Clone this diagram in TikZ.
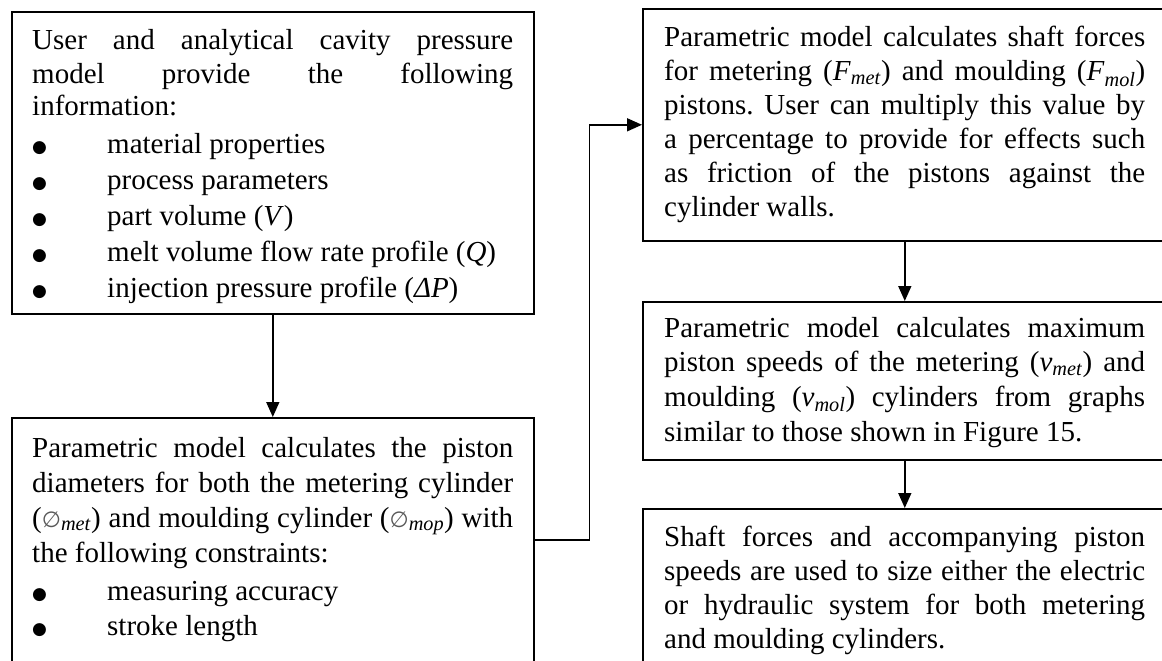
\documentclass[tikz,border=0pt]{standalone}
\usepackage{fontspec}
\setmainfont{Liberation Serif}
\newfontfamily\symf{DejaVu Sans}
\usetikzlibrary{arrows.meta}
\hyphenpenalty=10000
\exhyphenpenalty=10000
\hbadness=10000
\frenchspacing
\newcommand{\dia}{{\symf\fontsize{22}{22}\selectfont\color{black!65}∅}}
\newcommand{\bul}{{\symf\fontsize{17}{17}\selectfont\raisebox{1pt}{●}}}
\tikzset{
  box/.style={draw, line width=1.6pt, inner sep=0pt, anchor=north west},
  txt/.style={inner sep=0pt, anchor=base west, font=\fontsize{29}{34}\selectfont},
  para/.style={txt, text width=481pt, align=justify},
  arr/.style={line width=1.6pt, -{Triangle[length=15pt,width=13pt]}},
}
\begin{document}
\begin{tikzpicture}[x=1pt,y=-1pt]
\useasboundingbox (0,0) rectangle (1162,661);
\clip (0,0) rectangle (1162,661);
% boxes
\node[box, minimum width=522pt, minimum height=302pt] (b1) at (11,11) {};
\node[box, minimum width=522pt, minimum height=244pt] (b2) at (11,417) {};
\node[box, minimum width=524pt, minimum height=232pt] (b3) at (642,8) {};
\node[box, minimum width=524pt, minimum height=158pt] (b4) at (642,301) {};
\node[box, minimum width=524pt, minimum height=200pt] (b5) at (642,508) {};
% box 1 text
\node[para, font=\fontsize{29}{33}\selectfont] (t1) at (32,50) {User and analytical cavity pressure\linebreak model provide the following\linebreak information:};
\node[txt] (u1) at (32,153) {\bul};
\node[txt] (i1) at (107,153) {material properties};
\node[txt] (u2) at (32,189) {\bul};
\node[txt] (i2) at (107,189) {process parameters};
\node[txt] (u3) at (32,225) {\bul};
\node[txt] (i3) at (107,225) {part volume (\textit{V})};
\node[txt] (u4) at (32,261) {\bul};
\node[txt] (i4) at (107,261) {melt volume flow rate profile (\textit{Q})};
\node[txt] (u5) at (32,297) {\bul};
\node[txt] (i5) at (107,297) {injection pressure profile (\textit{Δ}\textit{P})};
% box 2 text
\node[para, font=\fontsize{29}{35}\selectfont] (t2) at (32,457) {Parametric model calculates the piston\linebreak diameters for both the metering cylinder\linebreak (\dia\textsubscript{\textit{met}}) and moulding cylinder (\dia\textsubscript{\textit{mop}}) with\linebreak the following constraints:};
\node[txt] (u6) at (32,600) {\bul};
\node[txt] (i6) at (107,600) {measuring accuracy};
\node[txt] (u7) at (32,635) {\bul};
\node[txt] (i7) at (107,635) {stroke length};
% box 3 text
\node[para, font=\fontsize{29}{34}\selectfont] (t3) at (664,47) {Parametric model calculates shaft forces\linebreak for metering (\textit{F}\textsubscript{\textit{met}}) and moulding (\textit{F}\textsubscript{\textit{mol}})\linebreak pistons. User can multiply this value by\linebreak a percentage to provide for effects such\linebreak as friction of the pistons against the\linebreak cylinder walls.};
% box 4 text
\node[para, font=\fontsize{29}{34.7}\selectfont] (t4) at (664,337) {Parametric model calculates maximum\linebreak piston speeds of the metering (\textit{v}\textsubscript{\textit{met}}) and\linebreak moulding (\textit{v}\textsubscript{\textit{mol}}) cylinders from graphs\linebreak similar to those shown in Figure 15.};
% box 5 text
\node[para, font=\fontsize{29}{34}\selectfont] (t5) at (664,546) {Shaft forces and accompanying piston\linebreak speeds are used to size either the electric\linebreak or hydraulic system for both metering\linebreak and moulding cylinders.};
% connectors
\draw[arr] (b1.south) -- (b2.north);
\draw[arr] (b2.east) -- ++(55,0) |- (b3.west);
\draw[arr] (b3.south) -- (b4.north);
\draw[arr] (b4.south) -- (b5.north);
\end{tikzpicture}
\end{document}
